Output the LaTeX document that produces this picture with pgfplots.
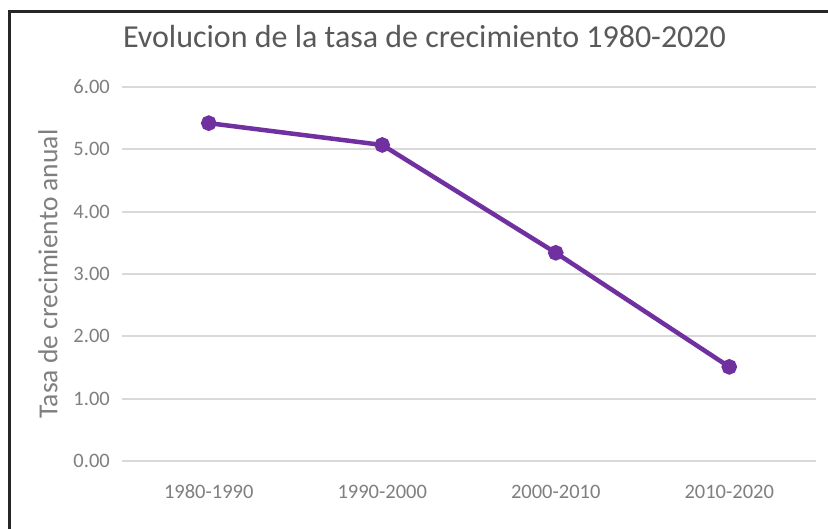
\documentclass[border=0pt]{standalone}
\usepackage{fontspec}
\setmainfont{Carlito}
\usepackage{pgfplots}
\pgfplotsset{compat=1.18}
\definecolor{lineP}{HTML}{7030A0}
\definecolor{gridc}{HTML}{D9D9D9}
\definecolor{txt}{HTML}{7F7F7F}
\definecolor{ttl}{HTML}{595959}
\begin{document}
\begin{tikzpicture}[x=1bp,y=1bp]
\useasboundingbox (0,0) rectangle (828,529);
\fill[white] (0,0) rectangle (828,529);
\draw[black!85, line width=3bp] (9,-5) -- (9,517) -- (840,517);
\begin{axis}[
  at={(122bp,68bp)}, anchor=south west,
  scale only axis, width=694bp, height=374bp,
  xmin=-0.5, xmax=3.5, ymin=0, ymax=6,
  axis line style={draw=none},
  major tick length=0pt,
  ymajorgrids, major grid style={gridc, line width=1.8bp},
  xtick={0,1,2,3},
  xticklabels={1980-1990,1990-2000,2000-2010,2010-2020},
  ytick={0,1,2,3,4,5,6},
  yticklabel style={/pgf/number format/.cd, fixed, fixed zerofill, precision=2, assume math mode=true, /tikz/.cd,
     font=\fontsize{20.5bp}{24bp}\selectfont, text=txt, anchor=east, inner sep=0pt, xshift=-12bp},
  xticklabel style={font=\fontsize{20.5bp}{24bp}\selectfont, text=txt, anchor=base, inner sep=0pt, yshift=-38bp},
  title={Evolucion de la tasa de crecimiento 1980-2020},
  title style={at={(axis description cs:0.4359,1.0909)}, anchor=base, font=\fontsize{32bp}{38bp}\selectfont, text=ttl, inner sep=0pt},
  ylabel={Tasa de crecimiento anual},
  ylabel style={at={(axis description cs:-0.1066,0.5)}, anchor=center, font=\fontsize{27.5bp}{32bp}\selectfont, text=txt, inner sep=0pt},
]
\addplot[lineP, line width=4.5bp, mark=*, mark size=5.5bp, mark options={fill=lineP, draw=lineP}]
  coordinates {(0,5.42) (1,5.07) (2,3.34) (3,1.51)};
\end{axis}
\end{tikzpicture}
\end{document}
